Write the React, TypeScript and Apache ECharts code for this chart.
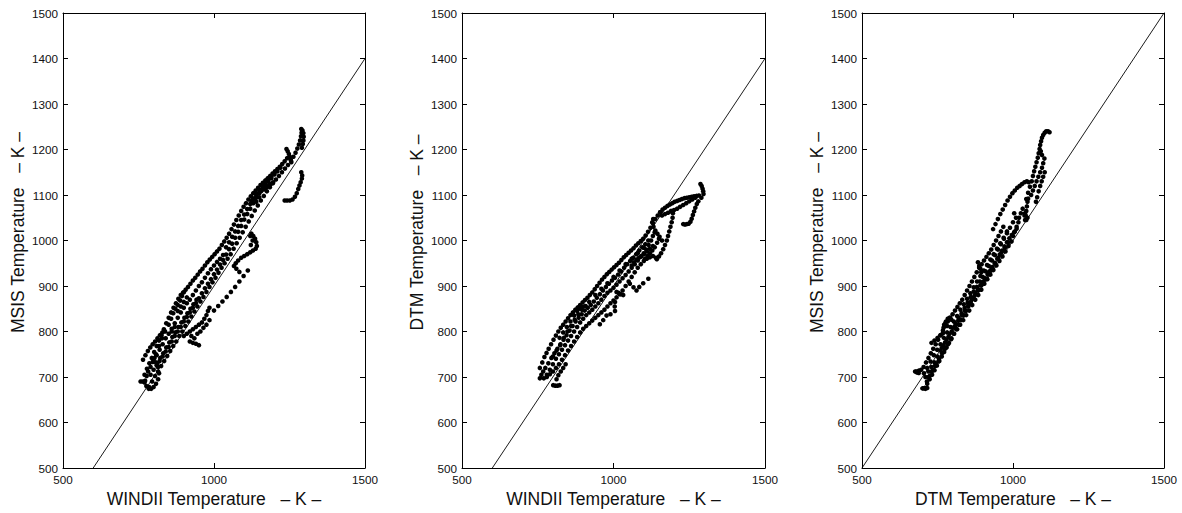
import React, { useEffect, useRef } from "react";
import * as echarts from "echarts";

// ---------- tick labels / axis texts ----------
const xTicks = [500, 1000, 1500];
const yTicks = [500, 600, 700, 800, 900, 1000, 1100, 1200, 1300, 1400, 1500];
const SP = "\u00a0\u00a0\u00a0";
const xNames = [`WINDII Temperature${SP}– K –`, `WINDII Temperature${SP}– K –`, `DTM Temperature${SP}– K –`];
const yNames = [`MSIS Temperature${SP}– K –`, `DTM Temperature${SP}– K –`, `MSIS Temperature${SP}– K –`];

// reference lines (x, y end points)
const refLine1 = [[600, 500], [1500, 1400]];
const refLine2 = [[600, 500], [1500, 1400]];
const refLine3 = [[500, 500], [1500, 1500]];

// ---------- panel 1 : WINDII (x) vs MSIS (y) ----------
const p1Upper = [[770,705],[778,718],[786,730],[794,742],[802,755],[810,768],[818,780],[826,792],[834,805],[842,818],[850,830],[858,842],[866,852],[874,862],[882,872],[890,880],[898,886],[906,892],[914,898],[922,905],[930,912],[938,918],[946,925],[954,932],[962,938],[970,945],[978,952],[986,958],[994,964],[1002,970],[1010,976],[1018,982],[1026,990],[1034,998],[1042,1006],[1050,1015],[1058,1025],[1066,1035],[1074,1045],[1082,1055],[1090,1065],[1098,1074],[1106,1082],[1114,1090],[1122,1097],[1130,1104],[1138,1110],[1146,1116],[1154,1122],[1162,1127],[1170,1132],[1178,1137],[1186,1142],[1194,1147],[1202,1152],[1210,1157],[1218,1162],[1226,1168],[1234,1174],[1242,1181]];
const p1Line = [[785,678],[795,690],[805,702],[815,712],[825,724],[835,735],[845,746],[855,757],[865,768],[875,778],[885,790],[895,800],[905,812],[915,822],[925,833],[935,844],[945,855],[955,866],[965,876],[975,887],[985,898],[995,908],[1005,918],[1015,929],[1025,940],[1035,950],[1045,960],[1055,970],[1065,982],[1075,994],[1085,1006],[1095,1018],[1105,1030],[1115,1042],[1125,1054],[1135,1066],[1145,1077],[1155,1088],[1165,1098],[1175,1108],[1185,1117],[1195,1126],[1205,1134],[1215,1142],[1225,1150],[1235,1158],[1245,1166],[1255,1175],[1263,1184],[1270,1193],[1276,1202],[1281,1211],[1285,1220],[1288,1229],[1290,1237]];
const p1Middle = [[800,735],[810,748],[820,760],[830,772],[840,785],[850,795],[860,806],[870,818],[880,830],[890,842],[900,852],[910,862],[920,870],[930,880],[940,890],[950,900],[960,908],[970,918],[980,928],[990,937],[1000,945],[1010,953],[1020,960],[1030,968],[812,730],[822,742],[832,752],[842,765],[852,776],[862,788],[872,798],[882,810],[892,820],[902,830],[912,840],[922,850],[932,860],[942,870],[850,815],[858,828],[865,840],[872,850],[880,858],[888,868],[894,878],[900,886],[860,800],[870,810],[838,800],[828,785],[818,768],[808,750],[880,845],[890,855],[900,865],[910,875]];
const p1Fill = [[790,705],[800,716],[810,726],[820,735],[830,745],[840,756],[850,766],[860,778],[870,790],[880,800],[890,810],[900,822],[910,832],[920,842],[930,852],[940,862],[950,873],[960,884],[970,895],[980,905],[990,915],[1000,926],[1010,936],[1020,947],[1030,957],[1040,969],[1050,981],[1060,993],[1070,1006],[1080,1019],[1090,1032],[1100,1046],[1110,1058],[1120,1070],[1130,1082],[1140,1094],[1150,1104],[1160,1113],[1170,1121],[1180,1129],[1190,1137],[1200,1145],[1210,1152],[1220,1160],[1040,985],[1050,996],[1060,1008],[1070,1020],[1080,1032],[1090,1045],[1100,1057],[1110,1069],[1120,1080],[1130,1092],[1140,1103],[1150,1112],[1160,1120],[1170,1127],[1180,1134],[1190,1141],[1200,1148]];
const p1Bottom = [[772,692],[777,702],[782,712],[790,722],[797,733],[803,742],[808,732],[814,722],[818,708],[815,695],[808,685],[800,678],[792,674],[784,674],[776,680],[770,688],[764,690],[757,690]];
const p1LeftDots = [[765,738],[773,748],[781,757],[789,765],[797,772],[805,778],[813,785],[821,792],[829,798]];
const p1RightLobe = [[900,790],[910,795],[920,800],[930,805],[940,810],[950,815],[960,820],[968,828],[975,836],[980,845],[985,852],[920,778],[930,775],[940,773],[950,770],[935,785],[925,790],[945,795],[955,800],[965,808],[975,815],[985,825]];
const p1RightDots = [[1112,934],[1098,922],[1084,910],[1070,898],[1056,887],[1042,876],[1028,866],[1014,856],[1000,846]];
const p1Loop = [[1124,1015],[1130,1010],[1136,1004],[1140,996],[1142,988],[1138,982],[1129,978],[1120,974],[1110,970],[1100,966],[1090,962],[1080,956],[1072,950],[1066,944],[1074,938],[1084,931],[1120,1010],[1128,1000],[1122,990]];
const p1Branch = [[1124,1087],[1132,1092],[1140,1098],[1148,1104],[1156,1108],[1164,1112],[1172,1116],[1180,1120],[1188,1124],[1196,1128],[1150,1095],[1140,1085]];
const p1Hooks = [[1240,1201],[1244,1196],[1248,1190],[1251,1184],[1254,1178],[1256,1172],[1289,1245],[1293,1242],[1296,1236],[1297,1228],[1296,1220],[1294,1212],[1291,1204]];
const p1SideHook = [[1289,1150],[1292,1143],[1291,1136],[1287,1128],[1283,1121],[1279,1113],[1274,1104],[1268,1096],[1260,1090],[1251,1088],[1242,1088],[1234,1088]];

// ---------- panel 2 : WINDII (x) vs DTM (y) ----------
const p2Upper = [[757,720],[765,732],[772,744],[779,753],[786,762],[794,772],[802,782],[810,791],[818,800],[826,808],[834,815],[842,822],[850,829],[858,836],[866,842],[874,848],[882,853],[890,858],[898,864],[906,869],[914,874],[922,880],[930,886],[938,893],[946,900],[954,907],[962,914],[970,920],[978,926],[986,931],[994,936],[1002,941],[1010,946],[1018,951],[1026,957],[1034,963],[1042,968],[1050,973],[1058,978],[1066,983],[1074,989],[1082,994],[1090,999],[1098,1004],[1106,1011],[1114,1019],[1122,1028],[1130,1038],[1138,1047],[1146,1055],[1154,1062]];
const p2Lower = [[770,697],[780,700],[790,706],[800,712],[810,720],[820,728],[830,738],[840,748],[850,758],[860,768],[870,778],[880,788],[890,798],[900,806],[910,812],[920,818],[930,824],[940,830],[950,836],[960,842],[970,848],[980,855],[990,862],[1000,868],[1010,875],[1020,882],[1030,890],[1040,900],[1050,910],[1060,920],[1070,930],[1080,940],[1090,948],[1100,955],[1110,960],[1120,963],[1130,966],[1140,962]];
const p2MiddleA = [[775,720],[785,730],[795,742],[805,752],[815,762],[825,772],[835,782],[845,792],[855,802],[865,812],[875,822],[885,830],[895,838],[905,846],[915,852],[925,858],[935,866],[945,874],[955,882],[965,890],[975,898],[985,905],[995,912],[1005,918],[1015,925],[1025,932],[1035,940],[1045,948],[1055,955],[1065,962],[1075,970],[1085,978],[1095,985],[1105,992],[1115,1000]];
const p2MiddleB = [[780,705],[790,716],[800,728],[810,740],[820,750],[830,760],[840,770],[850,780],[860,790],[870,800],[880,810],[890,820],[900,828],[910,836],[920,842],[930,848],[940,855],[950,862],[960,870],[970,878],[980,885],[990,890],[1000,896],[1010,903],[1020,910],[1030,917],[1040,924],[1050,932],[1060,940],[1070,948],[1080,956],[1090,964],[1100,970],[1110,976],[1120,982],[1130,988]];
const p2MiddleC = [[800,745],[812,758],[824,770],[836,786],[848,800],[860,812],[872,826],[884,838],[896,848],[908,856],[880,845],[870,835],[858,822],[846,810],[834,798],[822,786],[890,850],[900,855],[920,865],[940,880],[960,894],[980,906],[1000,920],[1020,934],[1040,948],[1060,960],[1080,972],[1100,984]];
const p2Loops = [[1192,1040],[1188,1030],[1184,1020],[1180,1010],[1176,1000],[1170,990],[1164,981],[1157,972],[1150,965],[1143,959],[1195,1050],[1196,1060],[1190,1065],[1131,1047],[1128,1040],[1132,1030],[1138,1022],[1145,1015],[1152,1008],[1160,1000],[1060,945],[1068,952],[1076,958],[1084,962],[1092,966],[1100,972],[1108,980],[1116,990],[1124,1000],[1130,1010],[1136,1018],[1104,960],[1112,966],[1120,972],[1128,978],[1136,985],[1144,995],[1150,1004]];
const p2TopBranch = [[1154,1062],[1162,1068],[1170,1072],[1178,1076],[1186,1079],[1194,1082],[1202,1085],[1210,1087],[1218,1089],[1226,1091],[1234,1093],[1242,1094],[1250,1095],[1258,1096],[1266,1097],[1274,1098],[1282,1099],[1160,1055],[1170,1058],[1180,1061],[1190,1064],[1200,1067],[1210,1070],[1220,1074],[1230,1078],[1240,1082],[1250,1086],[1260,1090],[1270,1094]];
const p2TopCurl = [[1287,1124],[1291,1120],[1294,1114],[1296,1108],[1297,1102],[1290,1094],[1280,1086],[1275,1080],[1270,1072],[1266,1064],[1262,1056],[1258,1048],[1254,1041],[1248,1037],[1242,1036],[1236,1035],[1230,1036]];
const p2RightDots = [[1115,916],[1098,906],[1085,898],[1076,890],[1066,897],[1054,905],[1032,880],[1024,882],[1016,885],[1010,887],[1005,865],[1004,855],[1005,845],[990,838],[977,835],[966,825],[955,816]];
const p2Bottom = [[757,697],[762,705],[768,712],[801,682],[808,681],[815,681],[822,682],[812,695],[818,704],[826,712],[834,720],[842,728]];

// ---------- panel 3 : DTM (x) vs MSIS (y) ----------
const p3Upper = [[680,712],[688,714],[696,716],[704,722],[712,732],[720,742],[728,752],[736,762],[744,772],[752,782],[760,792],[768,802],[776,812],[784,822],[792,830],[800,838],[808,846],[816,854],[824,862],[832,870],[840,880],[848,890],[856,900],[864,910],[872,920],[880,930],[888,940],[896,948],[904,956],[912,964],[920,972],[928,980],[936,990],[944,1000],[952,1010],[960,1020],[968,1030]];
const p3Lower = [[700,675],[708,676],[716,685],[724,695],[732,705],[740,715],[748,725],[756,735],[764,745],[772,755],[780,765],[788,775],[796,785],[804,795],[812,805],[820,815],[828,825],[836,835],[844,845],[852,855],[860,865],[868,875],[876,885],[884,893],[892,901],[900,909],[908,917],[916,925],[924,933],[932,942],[940,951],[948,960],[956,969],[964,978],[972,987],[980,996],[988,1005],[996,1012],[1004,1018],[1012,1026]];
const p3Middle = [[710,700],[720,712],[730,722],[740,732],[750,745],[760,758],[770,770],[780,782],[790,795],[800,808],[810,818],[820,830],[830,840],[840,852],[850,864],[860,876],[870,888],[880,898],[890,910],[900,920],[910,932],[920,944],[930,956],[940,968],[950,980],[960,992],[970,1004],[980,1016],[990,1028],[1000,1040],[715,690],[725,703],[735,716],[745,728],[755,740],[765,752],[775,762],[785,772],[795,783],[805,795],[815,805],[825,815],[835,825],[845,836],[855,846],[865,858],[875,870],[885,880],[895,892],[905,905],[915,915],[925,925],[935,935],[945,945],[955,955],[965,965],[975,976],[985,988],[995,998]];
const p3Fill = [[705,708],[716,720],[727,734],[738,748],[749,760],[760,772],[771,786],[782,798],[793,810],[804,822],[815,834],[826,848],[837,860],[848,872],[859,884],[870,897],[881,910],[892,922],[903,934],[914,946],[925,958],[936,970],[947,982],[958,994],[969,1006],[980,1020],[720,700],[731,712],[742,724],[753,734],[764,764],[775,776],[786,788],[797,800],[808,812],[819,824],[830,836],[841,846],[852,858],[863,870],[874,880],[885,890],[896,902],[907,914],[918,926],[929,938],[940,950],[951,962],[962,974],[973,984],[984,996]];
const p3Extras = [[772,815],[778,822],[784,828],[790,830],[796,826],[782,812],[776,818],[770,808],[676,712],[682,710],[688,709],[703,675],[710,674],[716,676],[884,952],[888,944],[892,938],[895,930],[730,775],[740,780],[750,786],[760,792],[768,796]];
const p3Arc = [[934,1025],[942,1036],[950,1047],[958,1058],[966,1068],[974,1078],[982,1088],[990,1096],[998,1104],[1006,1110],[1014,1116],[1022,1120],[1030,1124],[1038,1128],[1046,1130],[1052,1128]];
const p3Knot = [[1000,1010],[1006,1020],[1012,1030],[1018,1040],[1010,1050],[1004,1060],[1020,1050],[1026,1060],[1032,1070],[1040,1060],[1048,1050],[1044,1045],[1038,1055],[1040,1045],[1042,1055],[1044,1065],[1046,1075],[1048,1085],[1050,1092]];
const p3Top = [[1044,1091],[1050,1105],[1056,1118],[1062,1130],[1066,1142],[1070,1152],[1074,1162],[1078,1172],[1082,1182],[1085,1192],[1088,1201],[1090,1210],[1093,1218],[1096,1226],[1100,1232],[1105,1237],[1110,1240],[1116,1240],[1121,1238],[1060,1100],[1066,1110],[1072,1120],[1078,1130],[1084,1140],[1090,1150],[1096,1160],[1100,1170],[1104,1180],[1096,1188],[1092,1196],[1105,1150],[1100,1140],[1095,1130],[1090,1120],[1085,1108],[1080,1095],[1076,1085]];

const panel1 = [...p1Upper, ...p1Line, ...p1Middle, ...p1Fill, ...p1Bottom, ...p1LeftDots, ...p1RightLobe, ...p1RightDots, ...p1Loop, ...p1Branch, ...p1Hooks, ...p1SideHook];
const panel2 = [...p2Upper, ...p2Lower, ...p2MiddleA, ...p2MiddleB, ...p2MiddleC, ...p2Loops, ...p2TopBranch, ...p2TopCurl, ...p2RightDots, ...p2Bottom];
const panel3 = [...p3Upper, ...p3Lower, ...p3Middle, ...p3Fill, ...p3Extras, ...p3Arc, ...p3Knot, ...p3Top];

const FONT = "'Liberation Sans', Arial, Helvetica, sans-serif";
const grids = [
  { left: 63, top: 13, width: 302, height: 457 },
  { left: 462, top: 13, width: 303, height: 457 },
  { left: 862, top: 13, width: 302, height: 457 },
];

export default function App() {
  const ref = useRef<HTMLDivElement>(null);
  useEffect(() => {
    document.body.style.margin = "0";
    const chart = echarts.init(ref.current!, undefined, { renderer: "svg" });
    const line = { lineStyle: { color: "#000", width: 1 } };
    const xAxis: any[] = [];
    const yAxis: any[] = [];
    const series: any[] = [];
    const refs = [refLine1, refLine2, refLine3];
    const data = [panel1, panel2, panel3];
    const fmt = (v: number) => String(v);
    grids.forEach((_, i) => {
      const baseX = {
        type: "value", gridIndex: i, min: xTicks[0], max: xTicks[xTicks.length - 1], interval: 500,
        axisLine: { show: true, onZero: false, ...line },
        axisTick: { show: true, inside: true, length: 5, lineStyle: { color: "#000", width: 1 } },
        splitLine: { show: false },
      };
      const baseY = {
        type: "value", gridIndex: i, min: yTicks[0], max: yTicks[yTicks.length - 1], interval: 100,
        axisLine: { show: true, onZero: false, ...line },
        axisTick: { show: true, inside: true, length: 5, lineStyle: { color: "#000", width: 1 } },
        splitLine: { show: false },
      };
      xAxis.push({
        ...baseX, position: "bottom",
        axisLabel: { show: true, fontSize: 11.7, color: "#111", fontFamily: FONT, margin: 5, formatter: fmt },
        name: xNames[i], nameLocation: "middle", nameGap: 22,
        nameTextStyle: { fontSize: 17.5, color: "#111", fontFamily: FONT },
      });
      xAxis.push({ ...baseX, position: "top", axisLabel: { show: false } });
      yAxis.push({
        ...baseY, position: "left",
        axisLabel: { show: true, fontSize: 11.7, color: "#111", fontFamily: FONT, margin: 5, formatter: fmt },
        name: yNames[i], nameLocation: "middle", nameGap: 36,
        nameTextStyle: { fontSize: 17.5, color: "#111", fontFamily: FONT, padding: [0, 0, 0, 16] },
      });
      yAxis.push({ ...baseY, position: "right", axisLabel: { show: false } });
      series.push({
        type: "line", xAxisIndex: 2 * i, yAxisIndex: 2 * i, data: refs[i], symbol: "none",
        lineStyle: { color: "#000", width: 0.9 }, silent: true,
      });
      series.push({
        type: "scatter", xAxisIndex: 2 * i, yAxisIndex: 2 * i, data: data[i], symbolSize: 4.6,
        itemStyle: { color: "#000", opacity: 1 }, silent: true,
      });
    });
    chart.setOption({
      animation: false,
      backgroundColor: "#fff",
      grid: grids,
      xAxis,
      yAxis,
      series,
    });
    return () => chart.dispose();
  }, []);
  return <div ref={ref} style={{ width: 1182, height: 513 }} />;
}
